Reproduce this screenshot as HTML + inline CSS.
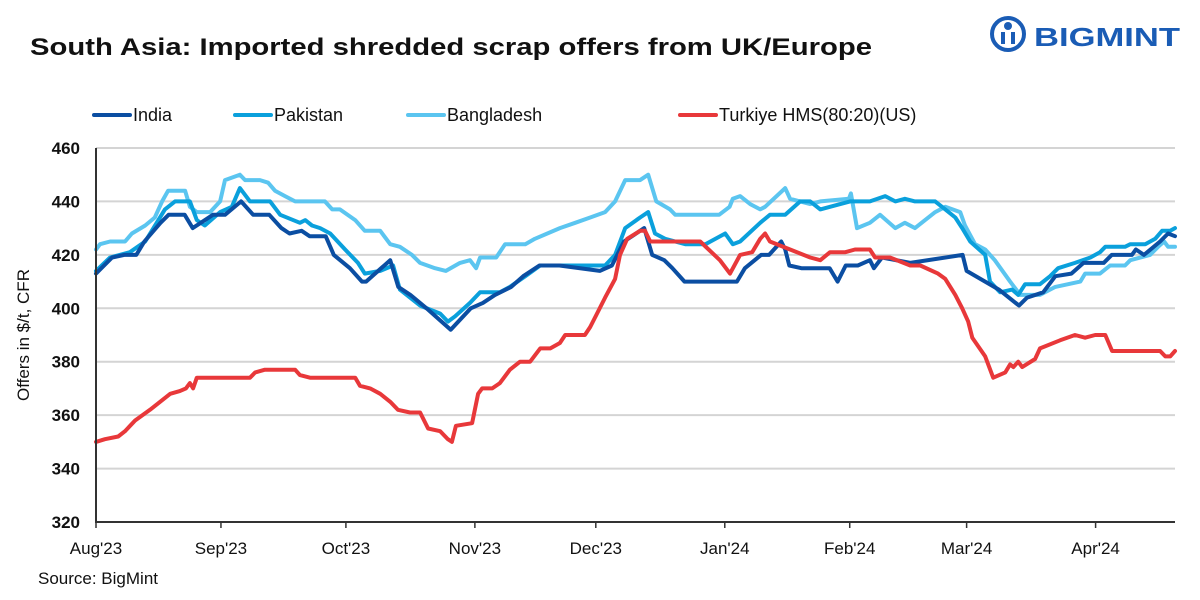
<!DOCTYPE html>
<html><head><meta charset="utf-8"><style>
body{margin:0;background:#fff;font-family:"Liberation Sans",sans-serif;}
#wrap{position:relative;width:1200px;height:600px;overflow:hidden;}
</style></head><body>
<div id="wrap">
<svg id="svg" width="1200" height="600" xmlns="http://www.w3.org/2000/svg">
<text x="30" y="55" font-size="24" font-weight="bold" fill="#111" textLength="842" lengthAdjust="spacingAndGlyphs">South Asia: Imported shredded scrap offers from UK/Europe</text>
<g>
<circle cx="1008" cy="34" r="16" fill="none" stroke="#1a5cb5" stroke-width="4"/>
<circle cx="1008" cy="26" r="4" fill="#1a5cb5"/>
<rect x="1001" y="32" width="4" height="12" fill="#1a5cb5"/><rect x="1011" y="32" width="4" height="12" fill="#1a5cb5"/>
<text x="1034" y="46" font-size="26" font-weight="bold" fill="#1a5cb5" textLength="146" lengthAdjust="spacingAndGlyphs">BIGMINT</text>
</g>
<g id="legend"></g>
<g id="grid"></g><g id="lines"></g><g id="axes"></g>
<text transform="translate(29,335) rotate(-90)" text-anchor="middle" font-size="17" fill="#111">Offers in $/t, CFR</text>
<text x="38" y="584" font-size="17" fill="#111">Source: BigMint</text>
</svg></div>
<script>
const yTicks=[320,340,360,380,400,420,440,460];
const monthLabels=["Aug'23","Sep'23","Oct'23","Nov'23","Dec'23","Jan'24","Feb'24","Mar'24","Apr'24"];
const monthDays=[0,31,62,94,124,156,187,216,248];
const seriesNames=["India","Pakistan","Bangladesh","Turkiye HMS(80:20)(US)"];
const seriesColors=["#0b4ea2","#0aa0dc","#5bc5f0","#e8383a"];
const indiaDays=[0,2,4,7,10,12,16,18,22,24,26,29,32,36,39,43,46,48,51,53,57,59,63,66,67,73,75,78,82,88,93,96,99,103,106,110,115,125,128,131,136,138,141,143,146,159,161,165,167,170,171,172,175,182,184,186,189,192,193,195,202,215,216,224,229,231,235,238,242,245,250,252,257,258,260,264,266,267.7];
const indiaVals=[413,416,419,420,420,425,432,435,435,430,432,435,435,440,435,435,430,428,429,427,427,420,415,410,410,418,408,405,400,392,400,402,405,408,412,416,416,414,416,425,430,420,418,415,410,410,415,420,420,425,422,416,415,415,410,416,416,418,415,419,417,420,414,407,401,404,406,412,413,417,417,420,420,422,420,425,428,427];
const pakDays=[0,3.5,8.4,12.2,17.1,19.6,23.3,25,27,30.8,33.7,35.7,38.2,43.2,45.7,50.6,51.9,53.6,55.6,58.1,61.8,65,66.7,70.5,73.7,75.4,80.4,85.4,87.3,89.1,92.8,95.3,100.2,102.7,106.5,110.2,126.3,128.8,131.3,135,137,138.7,141.2,146.2,151.2,156.1,158,159.8,164.8,167.2,171,174.7,177.2,179.7,182.1,187.1,192,195.8,198.3,200.7,203.2,208.2,210.7,213.2,214.9,216.9,220.6,221.8,224.3,227.3,228.8,230.5,234.2,236.7,238.7,242.9,246.7,249.1,250.4,255.3,256.6,260.3,262.8,264.5,266.5,267.7];
const pakVals=[414,419,421,425,437,440,440,433,431,436,438,445,440,440,435,432,433,431,430,428,422,417,413,414,416,407,401,398,395,397,402,406,406,408,412,416,416,420,430,434,436,428,426,424,424,428,424,425,432,435,435,440,440,437,438,440,440,442,440,441,440,440,437,434,430,425,420,410,406,407,405,409,409,412,415,417,419,421,423,423,424,424,426,429,429,430];
const bdDays=[0,1,3.5,7.2,8.9,12.2,14.6,16.4,17.9,22.1,23.3,25,28.3,30.8,32,35.7,37,40.7,42.7,44.4,46.9,49.4,56.8,58.6,60.5,64.3,66.7,70.5,73,75.4,78.4,80.4,84.1,86.8,90.3,92.8,94.3,95.3,99.3,101.5,106.5,108.9,115.1,118.9,122.6,126.3,128.8,131.3,135,137,139,142.4,143.7,154.6,157.2,158,159.8,162.3,164.8,166,171,172.2,177.2,179.7,186.8,187.3,188.8,192,194.5,198.3,200.7,203.2,208.2,210.7,214.4,215.6,218.1,220.6,223,226.8,229.3,234.2,238,244.2,245.4,249.1,251.6,255.3,256.6,261.5,263.5,265,266,267.7];
const bdVals=[422,424,425,425,428,431,434,440,444,444,438,436,436,440,448,450,448,448,447,444,442,440,440,437,437,433,429,429,424,423,420,417,415,414,417,418,415,419,419,424,424,426,430,432,434,436,440,448,448,450,440,437,435,435,438,441,442,439,437,438,445,441,439,440,441,443,430,432,435,430,432,430,436,438,436,431,424,422,418,410,405,405,408,410,413,413,416,416,418,420,423,425,423,423];
const trDays=[0,2.2,5.5,7.2,9.7,13.4,15.9,18.4,20.8,22.3,23.3,24.1,25,38.2,39.5,41.9,49.4,50.6,53.1,64.3,65.5,68,70.5,73,74.9,77.9,80.4,82.4,85.4,87.3,88.3,89.3,93.3,94.8,95.8,98.3,100.2,102.7,105.2,107.7,110.2,112.7,115.1,116.4,121.3,122.6,124.3,126.3,128.8,130,131.8,135,136.2,137.5,149.9,154.8,157.3,159.8,162.8,164.8,166,167.2,172.2,177.2,179.7,182.1,185.9,188.3,192,193.3,197,202,204.5,208.9,210.7,213.2,214.9,216.4,217.4,220.6,222.6,225.6,226.8,227.6,228.8,229.8,233,234.2,239.2,242.9,245.4,247.9,250.4,252.1,264,265.3,266.5,267.7];
const trVals=[350,351,352,354,358,362,365,368,369,370,372,370,374,374,376,377,377,375,374,374,371,370,368,365,362,361,361,355,354,351,350,356,357,368,370,370,372,377,380,380,385,385,387,390,390,393,398,404,411,420,426,429,429,425,425,418,413,420,421,426,428,425,422,419,418,421,421,422,422,419,419,416,416,413,411,405,400,395,389,382,374,376,379,378,380,378,381,385,388,390,389,390,390,384,384,382,382,384];
const X0=96,X1=1175,Y0=522,Y1=148,DMAX=267.7;
const xS=d=>X0+d*(X1-X0)/DMAX;
const yS=v=>Y0-(v-320)*(Y0-Y1)/140;
const NS="http://www.w3.org/2000/svg";
function mk(tag,attrs,parent){const e=document.createElementNS(NS,tag);for(const k in attrs)e.setAttribute(k,attrs[k]);parent.appendChild(e);return e;}
const grid=document.getElementById('grid'),axes=document.getElementById('axes'),lines=document.getElementById('lines'),leg=document.getElementById('legend');
yTicks.forEach(v=>{
 if(v>320){const g=mk('line',{x1:X0,x2:X1,y1:yS(v),y2:yS(v),stroke:'#d4d4d4','stroke-width':2},grid);
 
 }
 const t=mk('text',{x:80,y:yS(v)+6,'text-anchor':'end','font-size':17,'font-weight':'bold',fill:'#111'},axes);
 t.textContent=v;
 
 
});
const ax=mk('line',{x1:X0,x2:X0,y1:Y1,y2:Y0+1,stroke:'#333','stroke-width':2},axes);


const bx=mk('line',{x1:X0,x2:X1,y1:Y0,y2:Y0,stroke:'#333','stroke-width':2},axes);


monthDays.forEach((d,i)=>{
 const tk=mk('line',{x1:xS(d),x2:xS(d),y1:Y0,y2:Y0+6,stroke:'#333','stroke-width':1.5},axes);
 
 
 const t=mk('text',{x:xS(d),y:554,'text-anchor':'middle','font-size':17,fill:'#111'},axes);
 t.textContent=monthLabels[i];
 
 
});
const all=[[indiaDays,indiaVals],[pakDays,pakVals],[bdDays,bdVals],[trDays,trVals]];
const order=[2,1,0,3];
order.forEach(i=>{
 const [ds,vs]=all[i];
 const p=mk('polyline',{points:ds.map((d,j)=>xS(d).toFixed(1)+','+yS(vs[j]).toFixed(1)).join(' '),fill:'none',stroke:seriesColors[i],'stroke-width':4,'stroke-linejoin':'round','stroke-linecap':'round'},lines);
 
 
});
const legX=[94,235,408,680];
seriesNames.forEach((n,i)=>{
 const g=mk('g',{},leg);
 
 
 mk('line',{x1:legX[i],x2:legX[i]+36,y1:115,y2:115,stroke:seriesColors[i],'stroke-width':4,'stroke-linecap':'round'},g);
 const t=mk('text',{x:legX[i]+39,y:121,'font-size':18,fill:'#111'},g);
 t.textContent=n;
});
</script>
</body></html>
